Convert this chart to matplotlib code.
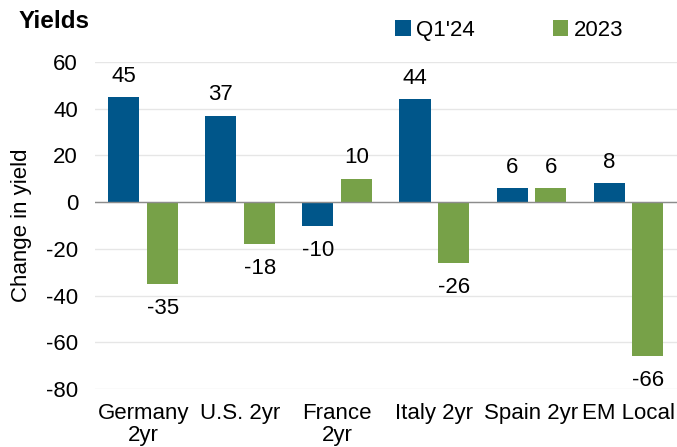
import matplotlib.pyplot as plt
import numpy as np

plt.rcParams['font.family'] = ['Liberation Sans', 'DejaVu Sans']
plt.rcParams['axes.unicode_minus'] = False

categories = ["Germany\n2yr", "U.S. 2yr", "France\n2yr", "Italy 2yr", "Spain 2yr", "EM Local"]
q1_24 = [45, 37, -10, 44, 6, 8]
y2023 = [-35, -18, 10, -26, 6, -66]
series_names = ["Q1'24", "2023"]
colors = ["#00568A", "#77A148"]

fig = plt.figure(figsize=(6.77, 4.47), dpi=100)
ax = fig.add_axes([0.14, 0.13, 0.86, 0.731])

x = np.arange(len(categories))
w = 0.32
off = 0.2
for vals, dx, c, name in [(q1_24, -off, colors[0], series_names[0]),
                          (y2023, off, colors[1], series_names[1])]:
    bars = ax.bar(x + dx, vals, w, color=c, label=name, zorder=3)
    for xi, v in zip(x + dx, vals):
        if v >= 0:
            ax.text(xi, v + 4.5, f"{v}", ha="center", va="bottom", fontsize=16)
        else:
            ax.text(xi, v - 6, f"{v}", ha="center", va="top", fontsize=16)

ax.set_xlim(-0.5, len(categories) - 0.5)
ax.set_ylim(-80, 60)
ax.set_yticks(np.arange(-80, 61, 20))
ax.yaxis.grid(True, color="#E6E6E6", linewidth=1, zorder=0)
ax.axhline(0, color="#8C8C8C", linewidth=1, zorder=4)
for s in ax.spines.values():
    s.set_visible(False)
ax.tick_params(axis="both", length=0, labelsize=16)
ax.tick_params(axis="y", pad=12)
ax.tick_params(axis="x", pad=10)
ax.set_xticks(x)
ax.set_xticklabels(categories, linespacing=1.1)
ax.set_ylabel("Change in yield", fontsize=16, labelpad=10)

fig.text(0.027, 0.951, "Yields", fontsize=17.5, fontweight="bold", va="center")
fig.legend(loc="center", bbox_to_anchor=(0.752, 0.932), ncol=2, frameon=False,
           fontsize=16, handlelength=0.7, handleheight=0.7, handletextpad=0.25,
           columnspacing=3.5)

fig.savefig("out.png", dpi=100)
